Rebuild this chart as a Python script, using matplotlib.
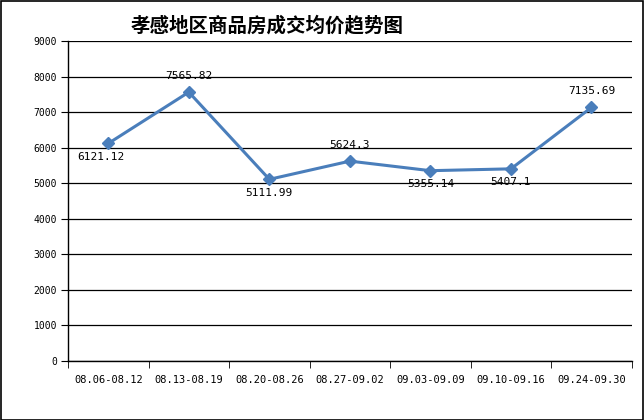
import matplotlib
matplotlib.use("Agg")
import matplotlib.pyplot as plt
import numpy as np

categories = ["08.06-08.12", "08.13-08.19", "08.20-08.26", "08.27-09.02",
              "09.03-09.09", "09.10-09.16", "09.24-09.30"]
prices = [6121.12, 7565.82, 5111.99, 5624.3, 5355.14, 5407.1, 7135.69]
labels = ["6121.12", "7565.82", "5111.99", "5624.3", "5355.14", "5407.1", "7135.69"]
label_above = [False, True, False, True, False, False, True]
yticks = list(range(0, 9001, 1000))
title = "孝感地区商品房成交均价趋势图"

plt.rcParams['font.family'] = ['Noto Sans CJK SC', 'DejaVu Sans']

fig = plt.figure(figsize=(6.44, 4.20), dpi=100)
fig.patch.set_facecolor("white")
fig.add_artist(plt.Rectangle((0.001, 0.001), 0.997, 0.996, transform=fig.transFigure,
                             fill=False, edgecolor="black", linewidth=1.2))

ax = fig.add_axes([0.1056, 0.1405, 0.8754, 0.7615])
x = np.arange(len(categories))
ax.plot(x, prices, color="#4A7EBB", linewidth=2.2, marker="D", markersize=6,
        markerfacecolor="#4A7EBB", markeredgecolor="#4A7EBB", zorder=3)

for i, (xi, yi, lab, above) in enumerate(zip(x, prices, labels, label_above)):
    if above:
        ax.annotate(lab, (xi, yi), xytext=(0, 8), textcoords="offset points",
                    ha="center", va="bottom", fontsize=8, family="DejaVu Sans Mono")
    else:
        dx = -5 if i == 0 else 0
        ax.annotate(lab, (xi, yi), xytext=(dx, -6), textcoords="offset points",
                    ha="center", va="top", fontsize=8, family="DejaVu Sans Mono")

ax.set_xlim(-0.5, len(categories) - 0.5)
ax.set_ylim(0, 9000)
ax.set_yticks(yticks)
ax.set_yticklabels([str(v) for v in yticks], fontsize=7, family="DejaVu Sans Mono")
ax.set_xticks(x)
ax.set_xticklabels(categories, fontsize=7.5, family="DejaVu Sans Mono")
ax.set_xticks(np.arange(-0.5, len(categories)), minor=True)
ax.tick_params(axis="x", which="major", length=0, pad=10)
ax.tick_params(axis="x", which="minor", length=5, direction="out", color="black")
ax.tick_params(axis="y", length=5, direction="out", color="black", pad=3)
ax.grid(axis="y", color="black", linewidth=0.9)
ax.set_axisbelow(True)
for s in ["top", "right"]:
    ax.spines[s].set_visible(False)
for s in ["left", "bottom"]:
    ax.spines[s].set_color("black")
    ax.spines[s].set_linewidth(1.0)

fig.text(0.415, 0.94, title, ha="center", va="center", fontsize=14, fontweight="bold")

fig.savefig("out.png", dpi=100, facecolor="white")
